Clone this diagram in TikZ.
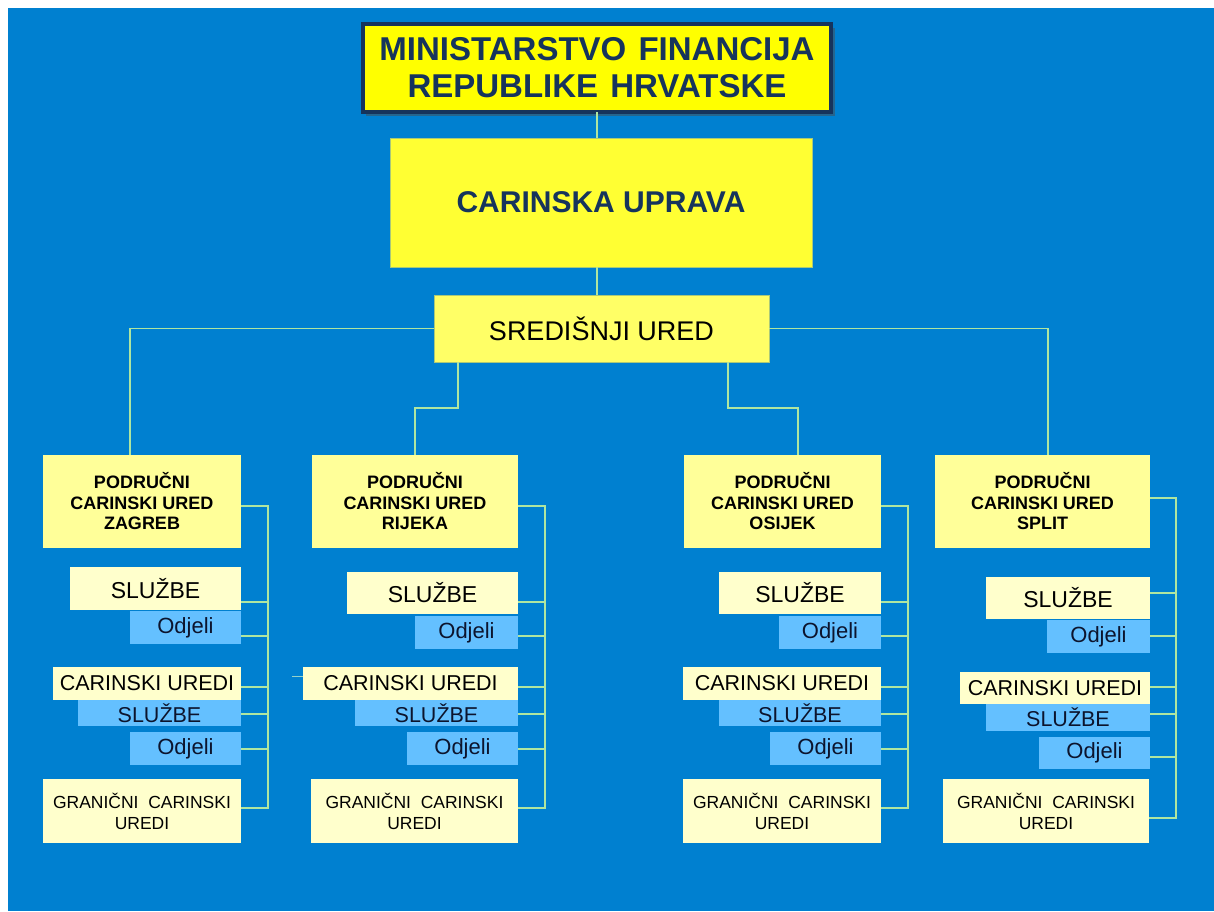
\documentclass[tikz,border=0pt]{standalone}
\usepackage{fontspec}
\setmainfont{Liberation Sans}
\usetikzlibrary{calc}
\definecolor{bgblue}{RGB}{0,128,208}
\definecolor{topyel}{RGB}{255,255,0}
\definecolor{cuyel}{RGB}{255,255,51}
\definecolor{sredyel}{RGB}{255,255,102}
\definecolor{podyel}{RGB}{255,255,153}
\definecolor{paleyel}{RGB}{255,255,204}
\definecolor{lightblue}{RGB}{100,192,255}
\definecolor{navy}{RGB}{22,52,92}
\definecolor{darktext}{RGB}{12,20,45}
\definecolor{connline}{RGB}{175,230,160}
\newcommand\orgbox[7]{\node[#2,anchor=north west,minimum width={(#5-#3)*1pt},minimum height={(#6-#4)*1pt}] (#1) at (#3,#4) {#7};}
\begin{document}
\begin{tikzpicture}[x=1pt,y=-1pt,
  base/.style={inner sep=0pt,outer sep=0pt,align=center},
  topbox/.style={base,fill=topyel,draw=navy,line width=3.5pt,text=navy,font=\bfseries\fontsize{33}{37}\selectfont},
  cubox/.style={base,fill=cuyel,draw={rgb,255:red,170;green,200;blue,120},line width=0.8pt,text=navy,font=\bfseries\fontsize{30}{34}\selectfont},
  sredbox/.style={base,fill=sredyel,draw={rgb,255:red,170;green,200;blue,120},line width=0.8pt,text=black,font=\fontsize{27}{30}\selectfont},
  podbox/.style={base,fill=podyel,text=black,font=\bfseries\fontsize{18}{20.5}\selectfont},
  sluzbox/.style={base,fill=paleyel,text=black,font=\fontsize{23}{26}\selectfont},
  odjbox/.style={base,fill=lightblue,text=darktext,font=\fontsize{22}{25}\selectfont},
  curbox/.style={base,fill=paleyel,text=black,font=\fontsize{21.5}{24}\selectfont},
  sluzbbox/.style={base,fill=lightblue,text=darktext,font=\fontsize{21.5}{24}\selectfont},
  granbox/.style={base,fill=paleyel,text=black,font=\fontsize{17.5}{21}\selectfont},
  conn/.style={draw=connline,line width=1.6pt}
]
\useasboundingbox (0,0) rectangle (1214,911);
\fill[white] (0,0) rectangle (1214,911);
\fill[bgblue] (8,8) rectangle (1214,911);

% top levels
\fill[black!70,opacity=0.5] (366,28) rectangle (835,116);
\orgbox{min}{topbox}{363}{24}{831}{112}{MINISTARSTVO\hspace{3pt} FINANCIJA\\REPUBLIKE\hspace{3pt} HRVATSKE}
\orgbox{cu}{cubox}{390}{138}{812}{267}{CARINSKA UPRAVA}
\orgbox{sred}{sredbox}{434}{295}{769}{362}{SREDIŠNJI URED}

% regional offices
\orgbox{zag}{podbox}{43}{455}{241}{548}{PODRUČNI\\CARINSKI URED\\ZAGREB}
\orgbox{rij}{podbox}{312}{455}{518}{548}{PODRUČNI\\CARINSKI URED\\RIJEKA}
\orgbox{osi}{podbox}{684}{455}{881}{548}{PODRUČNI\\CARINSKI URED\\OSIJEK}
\orgbox{spl}{podbox}{935}{455}{1150}{548}{PODRUČNI\\CARINSKI URED\\SPLIT}

% Zagreb children
\orgbox{z1}{sluzbox}{70}{567}{241}{610}{SLUŽBE}
\orgbox{z2}{odjbox}{130}{611}{241}{644}{Odjeli}
\orgbox{z3}{curbox}{53}{667}{241}{700}{CARINSKI UREDI}
\orgbox{z4}{sluzbbox}{78}{700}{241}{726}{SLUŽBE}
\orgbox{z5}{odjbox}{130}{732}{241}{765}{Odjeli}
\orgbox{z6}{granbox}{43}{779}{241}{843}{GRANIČNI\ \ CARINSKI\\UREDI}

% Rijeka children
\orgbox{r1}{sluzbox}{347}{572}{518}{614}{SLUŽBE}
\orgbox{r2}{odjbox}{415}{616}{518}{649}{Odjeli}
\orgbox{r3}{curbox}{303}{667}{518}{700}{CARINSKI UREDI}
\orgbox{r4}{sluzbbox}{355}{700}{518}{726}{SLUŽBE}
\orgbox{r5}{odjbox}{407}{732}{518}{765}{Odjeli}
\orgbox{r6}{granbox}{311}{779}{518}{843}{GRANIČNI\ \ CARINSKI\\UREDI}

% Osijek children
\orgbox{o1}{sluzbox}{719}{572}{881}{614}{SLUŽBE}
\orgbox{o2}{odjbox}{779}{616}{881}{649}{Odjeli}
\orgbox{o3}{curbox}{683}{667}{881}{700}{CARINSKI UREDI}
\orgbox{o4}{sluzbbox}{719}{700}{881}{726}{SLUŽBE}
\orgbox{o5}{odjbox}{770}{732}{881}{765}{Odjeli}
\orgbox{o6}{granbox}{683}{779}{881}{843}{GRANIČNI\ \ CARINSKI\\UREDI}

% Split children
\orgbox{s1}{sluzbox}{986}{577}{1150}{619}{SLUŽBE}
\orgbox{s2}{odjbox}{1047}{620}{1150}{653}{Odjeli}
\orgbox{s3}{curbox}{960}{672}{1150}{704}{CARINSKI UREDI}
\orgbox{s4}{sluzbbox}{986}{704}{1150}{731}{SLUŽBE}
\orgbox{s5}{odjbox}{1039}{737}{1150}{769}{Odjeli}
\orgbox{s6}{granbox}{943}{779}{1149}{843}{GRANIČNI\ \ CARINSKI\\UREDI}

% top connectors
\draw[conn] (min.south) -- (min.south |- cu.north);
\draw[conn] (min.south |- cu.south) -- (min.south |- sred.north);
\draw[conn] (sred.west) -| ([xshift=-12pt]zag.north);
\draw[conn] ([xshift=24pt]sred.south west) -- ++(0,46) -| (rij.north);
\draw[conn] ([xshift=-41pt]sred.south east) -- ++(0,46) -| ([xshift=15.5pt]osi.north);
\draw[conn] (sred.east) -| ([xshift=5.5pt]spl.north);

% Zagreb bus
\draw[conn] ([yshift=-4.5pt]zag.east) -| ([xshift=27pt,yshift=3pt]z6.east) -- ([yshift=3pt]z6.east);
\draw[conn] ([yshift=-13.5pt]z1.east) -- ++(27,0);
\draw[conn] ([yshift=-8.5pt]z2.east) -- ++(27,0);
\draw[conn] ([yshift=-3.5pt]z3.east) -- ++(27,0);
\draw[conn] ([yshift=-1pt]z4.east) -- ++(27,0);
\draw[conn] ([yshift=-0.5pt]z5.east) -- ++(27,0);

% Rijeka bus
\draw[conn] ([yshift=-4.5pt]rij.east) -| ([xshift=27pt,yshift=3pt]r6.east) -- ([yshift=3pt]r6.east);
\draw[conn] ([yshift=-9pt]r1.east) -- ++(27,0);
\draw[conn] ([yshift=-3.5pt]r2.east) -- ++(27,0);
\draw[conn] ([yshift=-3.5pt]r3.east) -- ++(27,0);
\draw[conn] ([yshift=-1pt]r4.east) -- ++(27,0);
\draw[conn] ([yshift=-0.5pt]r5.east) -- ++(27,0);
\draw[conn,draw={rgb,255:red,150;green,210;blue,200},line width=1pt] ([yshift=-9pt]r3.north west) -- ++(-11,0);

% Osijek bus
\draw[conn] ([yshift=-4.5pt]osi.east) -| ([xshift=27pt,yshift=3pt]o6.east) -- ([yshift=3pt]o6.east);
\draw[conn] ([yshift=-9pt]o1.east) -- ++(27,0);
\draw[conn] ([yshift=-3.5pt]o2.east) -- ++(27,0);
\draw[conn] ([yshift=-3.5pt]o3.east) -- ++(27,0);
\draw[conn] ([yshift=-1pt]o4.east) -- ++(27,0);
\draw[conn] ([yshift=-0.5pt]o5.east) -- ++(27,0);

% Split bus
\draw[conn] ([yshift=3.5pt]spl.east) -| ([xshift=27pt,yshift=-7pt]s6.east) -- ([yshift=-7pt]s6.east);
\draw[conn] ([yshift=5pt]s1.east) -- ++(26,0);
\draw[conn] ([yshift=0.5pt]s2.east) -- ++(26,0);
\draw[conn] ([yshift=1pt]s3.east) -- ++(26,0);
\draw[conn] ([yshift=3.5pt]s4.east) -- ++(26,0);
\draw[conn] ([yshift=-4pt]s5.east) -- ++(26,0);
\end{tikzpicture}
\end{document}
